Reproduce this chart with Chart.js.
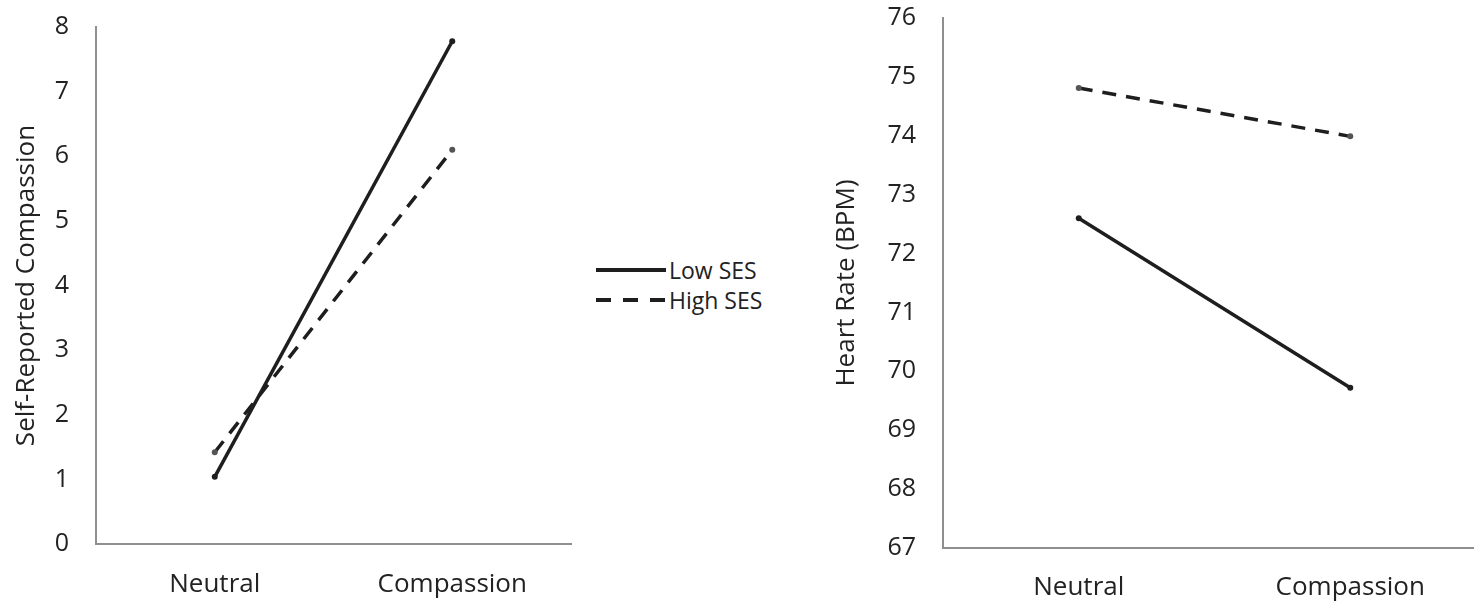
<!DOCTYPE html>
<html>
<head>
<meta charset="utf-8">
<script src="https://cdn.jsdelivr.net/npm/chart.js@4"></script>
<style>
  html, body { margin: 0; padding: 0; background: #fff; overflow: hidden; }
  body { width: 1474px; height: 603px; position: relative; font-family: "Open Sans", sans-serif; }
  .box { position: absolute; top: 0; height: 603px; }
  #leftBox { left: 0; width: 590px; }
  #rightBox { left: 820px; width: 680px; }
  .legend { position: absolute; left: 596px; color: #222; font-size: 23px; line-height: 30px; }
  .legend .row { position: absolute; left: 0; white-space: nowrap; height: 30px; }
  .legend .mark { position: absolute; left: 0; top: 13px; width: 70px; height: 4px; }
  .legend .txt { position: absolute; left: 73px; top: 0; }
</style>
</head>
<body>
<div class="box" id="leftBox"><canvas id="left"></canvas></div>
<div class="box" id="rightBox"><canvas id="right"></canvas></div>
<div class="legend" id="legend"></div>
<script>
const categories = ['Neutral', 'Compassion'];
const seriesNames = ['Low SES', 'High SES'];
const compassionLow = [1.04, 7.78];
const compassionHigh = [1.42, 6.1];
const heartLow = [72.6, 69.72];
const heartHigh = [74.81, 73.99];

const ink = '#1e1e1e';
const axisGrey = '#8f8f8f';
const dash = [14, 10];

function makeSets(low, high) {
	return [{
		label: seriesNames[0],
		data: low,
		borderColor: ink,
		backgroundColor: ink,
		borderWidth: 3.5,
		pointRadius: 3,
		pointBorderWidth: 0
	}, {
		label: seriesNames[1],
		data: high,
		borderColor: ink,
		backgroundColor: '#555',
		borderWidth: 3.5,
		borderDash: dash,
		pointRadius: 3,
		pointBorderWidth: 0
	}];
}

function makeChart(id, low, high, yMin, yMax, title, pad, yWidth, xHeight, xPad) {
	const ctx = document.getElementById(id).getContext('2d');
	return new Chart(ctx, {
		type: 'line',
		data: { labels: categories, datasets: makeSets(low, high) },
		options: {
			responsive: true,
			maintainAspectRatio: false,
			animation: false,
			layout: { padding: pad },
			plugins: { legend: { display: false }, tooltip: { enabled: false } },
			scales: {
				x: {
					offset: true,
					grid: { display: false, drawTicks: false },
					border: { display: true, color: axisGrey, width: 2 },
					ticks: { color: '#222', padding: xPad, font: { family: 'Open Sans', size: 26 } },
					afterFit: s => {
						s.height = xHeight;
						s.paddingLeft = 0;
						s.paddingRight = 0;
					}
				},
				y: {
					min: yMin,
					max: yMax,
					grid: { display: false, drawTicks: false },
					border: { display: true, color: axisGrey, width: 2 },
					ticks: { stepSize: 1, color: '#222', padding: 27, font: { family: 'Open Sans', size: 25 } },
					title: {
						display: true,
						text: title,
						color: '#222',
						padding: { top: 14, bottom: 0 },
						font: { family: 'Open Sans', size: 26, lineHeight: 1 }
					},
					afterFit: s => {
						s.width = yWidth;
						// tick padding would otherwise push the plot top down
						s.paddingTop = 0;
						s.paddingBottom = 0;
					}
				}
			}
		}
	});
}

makeChart('left', compassionLow, compassionHigh, 0, 8, 'Self-Reported Compassion',
	{ left: 0, right: 19, top: 27, bottom: 0 }, 96, 59, 25);
makeChart('right', heartLow, heartHigh, 67, 76, 'Heart Rate (BPM)',
	{ left: 0, right: 14, top: 18, bottom: 0 }, 123, 55, 24);

// legend between the two panels
const legendTops = [255, 285];
const legend = document.getElementById('legend');
seriesNames.forEach((name, i) => {
	const row = document.createElement('div');
	row.className = 'row';
	row.style.top = legendTops[i] + 'px';
	const mark = document.createElement('div');
	mark.className = 'mark';
	mark.style.background = i === 0 ? ink
		: 'repeating-linear-gradient(to right, ' + ink + ' 0 15px, transparent 15px 27px)';
	const txt = document.createElement('span');
	txt.className = 'txt';
	txt.textContent = name;
	row.appendChild(mark);
	row.appendChild(txt);
	legend.appendChild(row);
});
</script>
</body>
</html>
